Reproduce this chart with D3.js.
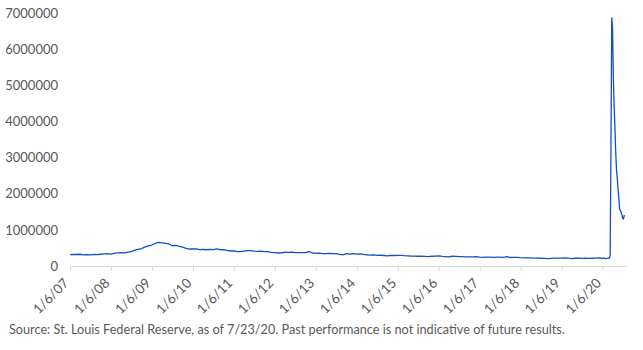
<!DOCTYPE html>
<html>
<head>
<meta charset="utf-8">
<script src="https://cdn.jsdelivr.net/npm/d3@7"></script>
<style>
  body { margin: 0; background: #fff; }
  svg text { font-family: "Lato", "Open Sans", sans-serif; fill: #595959; }
</style>
</head>
<body>
<div class="container"></div>
<script>
// weekly initial jobless claims, monthly averages 2007-2019 (thousands)
var claims2007 = [315, 320, 318, 325, 310, 315, 305, 320, 315, 325, 335, 340];
var claims2008 = [330, 350, 365, 370, 365, 385, 400, 440, 460, 480, 530, 555];
var claims2009 = [580, 630, 655, 640, 625, 610, 560, 570, 545, 525, 490, 470];
var claims2010 = [470, 475, 455, 460, 450, 460, 455, 475, 455, 450, 430, 415];
var claims2011 = [420, 400, 395, 410, 425, 425, 410, 405, 410, 400, 395, 375];
var claims2012 = [370, 360, 365, 380, 375, 385, 370, 370, 370, 370, 400, 360];
var claims2013 = [350, 355, 345, 345, 350, 345, 340, 320, 310, 345, 330, 340];
var claims2014 = [330, 335, 320, 310, 300, 310, 295, 300, 290, 280, 295, 290];
var claims2015 = [295, 295, 285, 280, 275, 275, 270, 270, 265, 260, 270, 275];
var claims2016 = [280, 265, 260, 255, 270, 265, 260, 260, 255, 255, 250, 260];
var claims2017 = [245, 240, 245, 245, 240, 245, 245, 240, 260, 235, 240, 240];
var claims2018 = [230, 225, 225, 225, 220, 220, 215, 210, 205, 212, 220, 220];
var claims2019 = [220, 225, 215, 205, 215, 220, 210, 215, 212, 215, 220, 225];

// weekly data for 2020 (week ending)
var weeks2020 = ["2020-01-04", "2020-01-11", "2020-01-18", "2020-01-25", "2020-02-01", "2020-02-08",
  "2020-02-15", "2020-02-22", "2020-02-29", "2020-03-07", "2020-03-14", "2020-03-21", "2020-03-28",
  "2020-04-04", "2020-04-11", "2020-04-18", "2020-04-25", "2020-05-02", "2020-05-09", "2020-05-16",
  "2020-05-23", "2020-05-30", "2020-06-06", "2020-06-13", "2020-06-20", "2020-06-27", "2020-07-04",
  "2020-07-11", "2020-07-18"];
var claims2020 = [214, 207, 223, 212, 203, 206, 215, 220, 217, 211, 282, 3307, 6867,
  6615, 5237, 4442, 3867, 3176, 2687, 2446, 2126, 1897, 1566, 1540, 1482, 1413, 1310, 1307, 1416];

var yTicks = [0, 1000000, 2000000, 3000000, 4000000, 5000000, 6000000, 7000000];
var xTickYears = [2007, 2008, 2009, 2010, 2011, 2012, 2013, 2014, 2015, 2016, 2017, 2018, 2019, 2020];
var sourceNote = "Source: St. Louis Federal Reserve, as of 7/23/20. Past performance is not indicative of future results.";

var WIDTH = 643, HEIGHT = 350;
var LEFT = 70, RIGHT = 626, TOP = 13, BOTTOM = 266;

// assemble series
var monthly = [claims2007, claims2008, claims2009, claims2010, claims2011, claims2012, claims2013,
  claims2014, claims2015, claims2016, claims2017, claims2018, claims2019];
var data = [];
monthly.forEach(function(vals, yi) {
  vals.forEach(function(v, m) {
    data.push({date: new Date(2007 + yi, m, 6), value: v * 1000});
  });
});
weeks2020.forEach(function(w, i) {
  data.push({date: d3.timeParse("%Y-%m-%d")(w), value: claims2020[i] * 1000});
});

var xScale = d3.scaleTime()
  .domain([new Date(2007, 0, 6), new Date(2020, 7, 2)])
  .range([LEFT, RIGHT]);

var yScale = d3.scaleLinear()
  .domain([0, 7000000])
  .range([BOTTOM, TOP]);

var svg = d3.select('.container').append('svg')
  .attr('width', WIDTH)
  .attr('height', HEIGHT);

// x axis
var xAxis = d3.axisBottom(xScale)
  .tickValues(xTickYears.map(function(y) { return new Date(y, 0, 6); }))
  .tickFormat(d3.timeFormat("1/6/%y"))
  .tickSize(5)
  .tickSizeOuter(0);

var xg = svg.append('g')
  .attr('transform', 'translate(0,' + BOTTOM + ')')
  .call(xAxis);
xg.select('.domain').attr('stroke', '#d9d9d9');
xg.selectAll('.tick line').attr('stroke', '#d9d9d9');
xg.selectAll('.tick text')
  .attr('font-size', 13.5)
  .attr('text-anchor', 'end')
  .attr('x', 0)
  .attr('y', 0)
  .attr('dy', 0)
  .attr('transform', 'translate(-1,18) rotate(-45)');

// y axis
var yAxis = d3.axisLeft(yScale)
  .tickValues(yTicks)
  .tickFormat(d3.format("d"))
  .tickSize(0);

var yg = svg.append('g')
  .attr('transform', 'translate(' + (LEFT - 12) + ',0)')
  .call(yAxis);
yg.select('.domain').remove();
yg.selectAll('.tick text').attr('font-size', 13).attr('x', 0);

// line
svg.append('path')
  .datum(data)
  .attr('fill', 'none')
  .attr('stroke', '#1450c8')
  .attr('stroke-width', 1.3)
  .attr('stroke-linejoin', 'round')
  .attr('d', d3.line()
    .x(function(d) { return xScale(d.date); })
    .y(function(d) { return yScale(d.value); }));

// source note
svg.append('text')
  .attr('x', 9)
  .attr('y', 334)
  .attr('font-size', 12.7)
  .text(sourceNote);
</script>
</body>
</html>
